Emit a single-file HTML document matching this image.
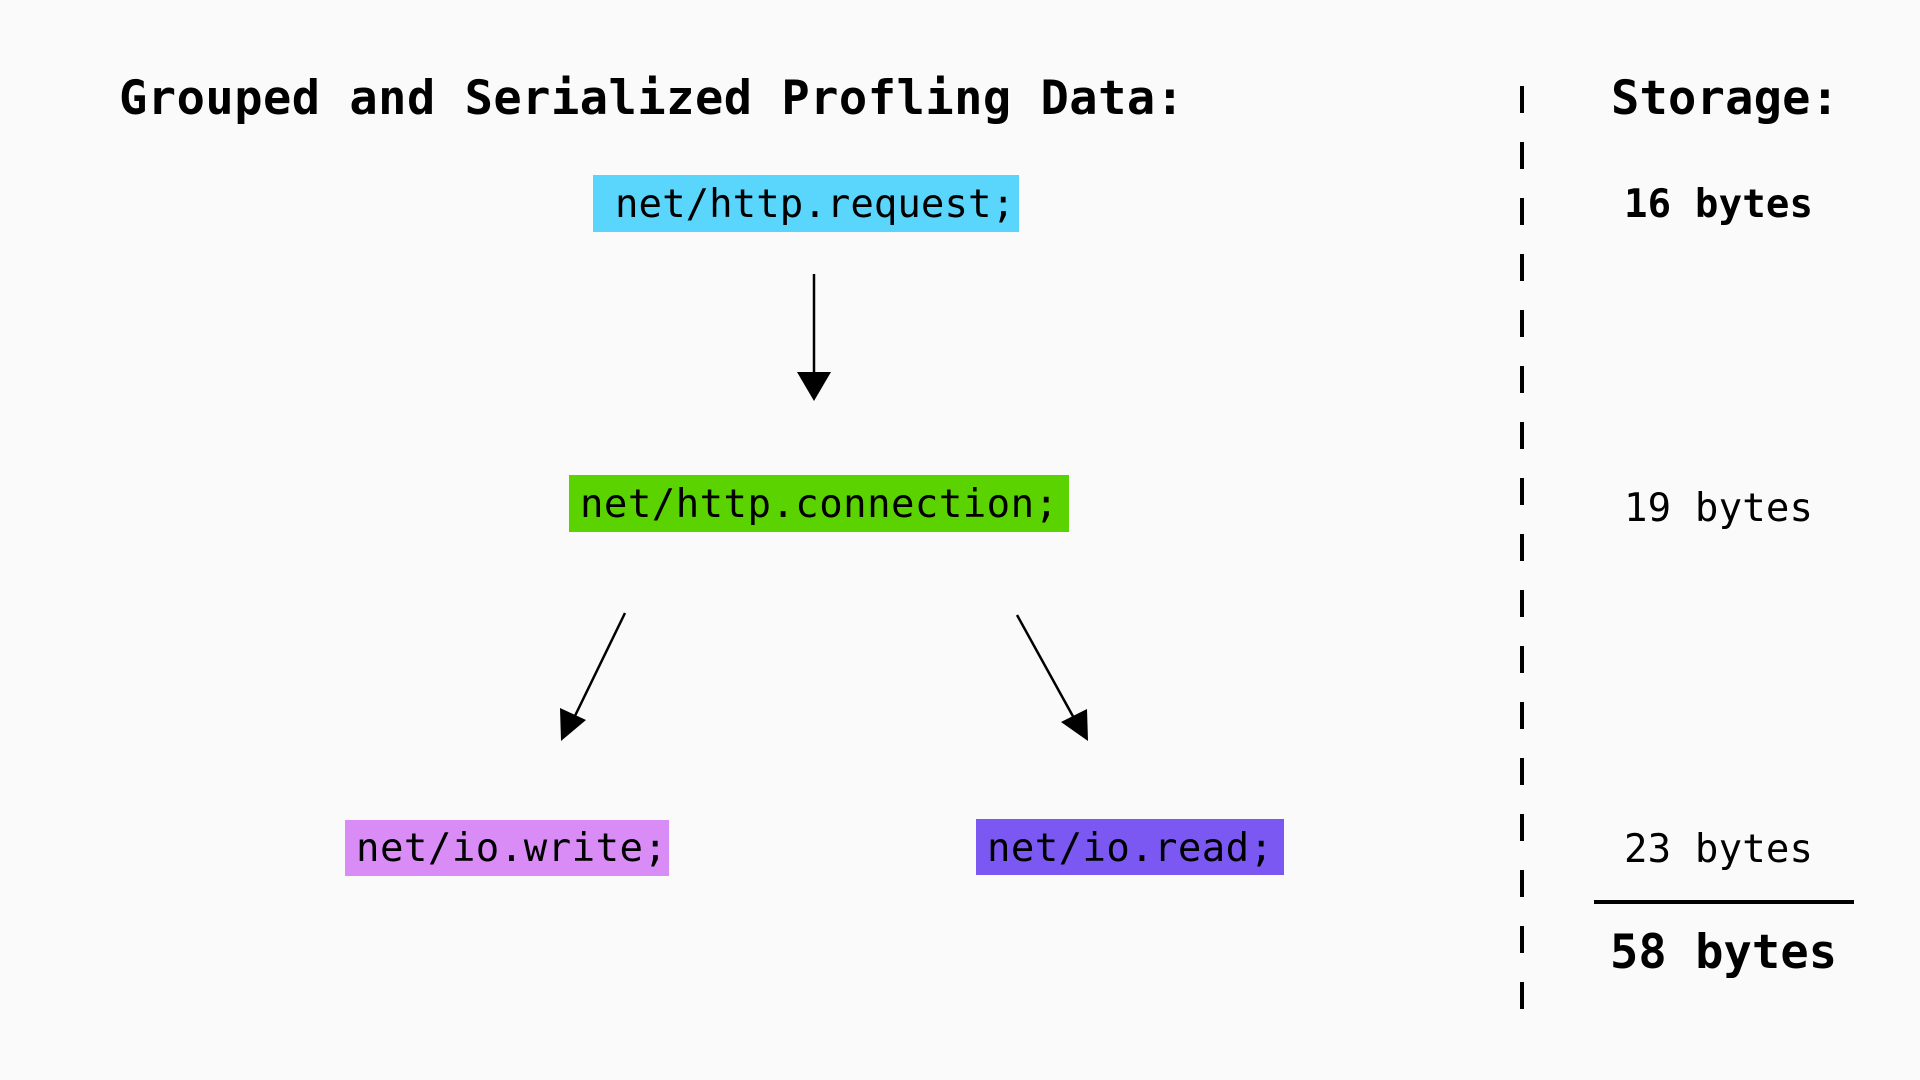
<!DOCTYPE html>
<html><head><meta charset="utf-8"><style>
html,body{margin:0;padding:0;background:#fafafa;}
svg{display:block;}
text{font-family:"DejaVu Sans Mono","Liberation Mono",monospace;fill:#000;}
</style></head><body>
<svg width="1920" height="1080" viewBox="0 0 1920 1080" xmlns="http://www.w3.org/2000/svg">
<rect width="1920" height="1080" fill="#fafafa"/>
<text x="119" y="114" font-size="47" font-weight="bold" textLength="1065" lengthAdjust="spacing">Grouped and Serialized Profling Data:</text>
<text x="1611" y="114" font-size="47" font-weight="bold" textLength="228" lengthAdjust="spacing">Storage:</text>

<rect x="593" y="175" width="426" height="57" fill="#5ad5fb"/>
<text x="615" y="217" font-size="39" textLength="400" lengthAdjust="spacing">net/http.request;</text>

<rect x="569" y="475" width="500" height="57" fill="#5bd300"/>
<text x="580" y="517" font-size="39" textLength="478" lengthAdjust="spacing">net/http.connection;</text>

<rect x="345" y="820" width="324" height="56" fill="#d98cf6"/>
<text x="356" y="861" font-size="39" textLength="311" lengthAdjust="spacing">net/io.write;</text>

<rect x="976" y="819" width="308" height="56" fill="#7b58f2"/>
<text x="987" y="861" font-size="39" textLength="286" lengthAdjust="spacing">net/io.read;</text>

<line x1="814" y1="274" x2="814" y2="375" stroke="#000" stroke-width="2.5"/>
<polygon points="797,372 831,372 814,401" fill="#000"/>

<line x1="625" y1="613" x2="572" y2="722" stroke="#000" stroke-width="2.5"/>
<polygon points="561,741 560,708 586,720" fill="#000"/>
<line x1="1017" y1="615" x2="1075" y2="720" stroke="#000" stroke-width="2.5"/>
<polygon points="1088,741 1061,722 1087,709" fill="#000"/>

<line x1="1522" y1="86" x2="1522" y2="1028" stroke="#000" stroke-width="4" stroke-dasharray="27,29"/>

<text x="1624" y="217" font-size="39" font-weight="bold" textLength="189" lengthAdjust="spacing">16 bytes</text>
<text x="1624" y="521" font-size="39" textLength="189" lengthAdjust="spacing">19 bytes</text>
<text x="1624" y="862" font-size="39" textLength="189" lengthAdjust="spacing">23 bytes</text>
<line x1="1594" y1="902" x2="1854" y2="902" stroke="#000" stroke-width="4"/>
<text x="1610" y="968" font-size="47" font-weight="bold" textLength="227" lengthAdjust="spacing">58 bytes</text>
</svg>
</body></html>
